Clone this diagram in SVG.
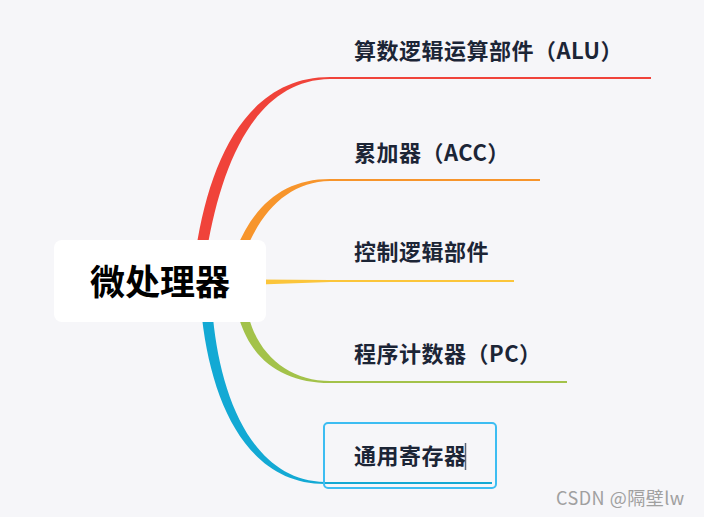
<svg xmlns="http://www.w3.org/2000/svg" width="704" height="517" viewBox="0 0 704 517">
<style>
.t{font-family:"Noto Sans CJK SC","Open Sans",sans-serif;font-weight:bold;font-size:22px;letter-spacing:0.5px;fill:#1c2536}
.ln{fill:none;stroke-width:2}
</style>
<rect width="704" height="517" fill="#f6f6f9"/>
<g id="connectors">
<path d="M196,250 C210,158 248,77 330,77 L330,79 C256,80 222,162 207,250 Z" fill="#f0433a"/>
<line class="ln" x1="329" y1="78" x2="651" y2="78" stroke="#f0433a"/>
<path d="M236,250 C254,204 285,179 330,179 L330,181 C292,182 264,206 246,250 Z" fill="#f7952c"/>
<line class="ln" x1="329" y1="180" x2="540" y2="180" stroke="#f7952c"/>
<path d="M260,279.5 L330,280 L330,282 L260,284.5 Z" fill="#fbc53b"/>
<line class="ln" x1="329" y1="281" x2="514" y2="281" stroke="#fbc53b"/>
<path d="M239,318 C252,362 285,383 330,383 L330,381 C292,381 260,358 249,318 Z" fill="#a3c24a"/>
<line class="ln" x1="329" y1="382" x2="567" y2="382" stroke="#a3c24a"/>
<path d="M202,318 C212,405 248,484 325,484 L325,482 C254,481 221,400 213,318 Z" fill="#13a9d4"/>
<line class="ln" x1="324" y1="483" x2="492" y2="483" stroke="#13a9d4"/>
</g>
<g id="root">
<rect x="54" y="240" width="212" height="82" rx="8" fill="#ffffff"/>
<text x="160" y="295" text-anchor="middle" font-family="Noto Sans CJK SC, sans-serif" font-weight="bold" font-size="35" fill="#000">微处理器</text>
</g>
<g id="alu"><text class="t" x="354" y="59">算数逻辑运算部件（ALU）</text></g>
<g id="acc"><text class="t" x="354" y="161">累加器（ACC）</text></g>
<g id="ctrl"><text class="t" x="354" y="260">控制逻辑部件</text></g>
<g id="pc"><text class="t" x="354" y="362">程序计数器（PC）</text></g>
<g id="reg">
<rect x="324" y="423" width="172" height="65" rx="4" fill="none" stroke="#3dbdf2" stroke-width="2"/>
<text class="t" x="354" y="464">通用寄存器</text>
<line x1="465.5" y1="443" x2="465.5" y2="470" stroke="#5a6375" stroke-width="1.5"/>
</g>
<text x="556" y="505" font-family="Noto Sans CJK SC, sans-serif" font-size="18" letter-spacing="0.5" fill="#a0a0a0">CSDN @隔壁lw</text>
</svg>
